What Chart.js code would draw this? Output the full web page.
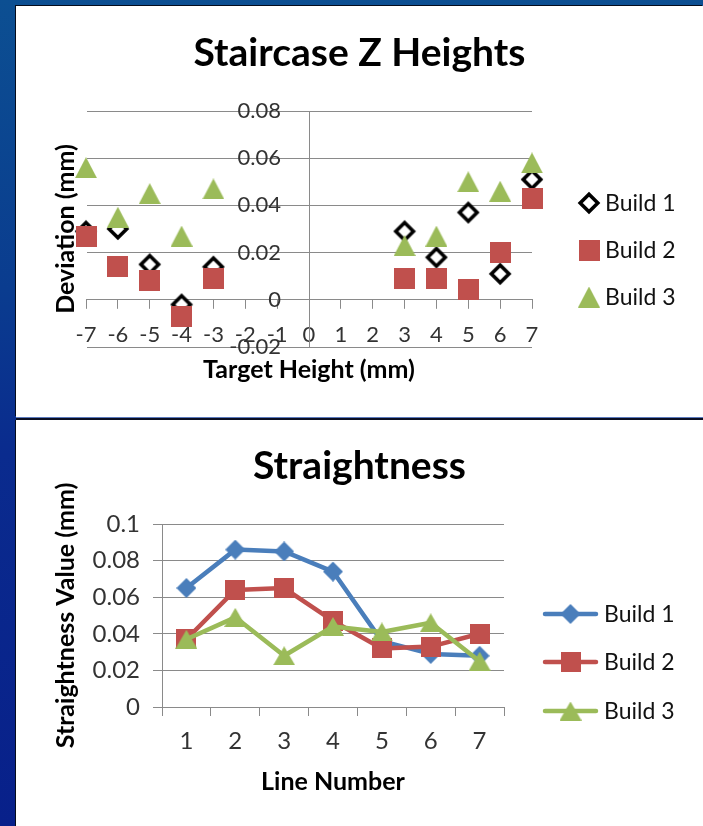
<!DOCTYPE html>
<html>
<head>
<meta charset="utf-8">
<script src="https://cdn.jsdelivr.net/npm/chart.js@4.4.1/dist/chart.umd.min.js"></script>
<style>
  html, body { margin: 0; padding: 0; }
  body {
    width: 703px; height: 826px; position: relative; overflow: hidden;
    background: linear-gradient(180deg, #0c4f92 0%, #0a3c8f 35%, #0a2b8e 55%, #08208a 100%);
  }
  .panel { position: absolute; left: 16px; width: 687px; background: #fff; }
  #p1 { top: 6px; height: 411px; box-shadow: -1px -1px 0 #050c1c; }
  #p2 { top: 420px; height: 406px; box-shadow: -1px 0 0 #050c1c; }
  #rule1 { position: absolute; left: 16px; top: 417px; width: 687px; height: 1px; background: #5a79bd; }
  #rule2 { position: absolute; left: 16px; top: 418px; width: 687px; height: 2px; background: #0a0f22; }
  canvas { display: block; }
</style>
</head>
<body>
<div class="panel" id="p1"><canvas id="stairs" width="687" height="411"></canvas></div>
<div id="rule1"></div><div id="rule2"></div>
<div class="panel" id="p2"><canvas id="straight" width="687" height="406"></canvas></div>
<script>
// ---- Staircase Z Heights: deviation per target height ----
const stairTargets = [-7, -6, -5, -4, -3, 3, 4, 5, 6, 7];
const stairBuild1 = [0.029, 0.030, 0.015, -0.002, 0.014, 0.029, 0.018, 0.037, 0.011, 0.051];
const stairBuild2 = [0.027, 0.014, 0.008, -0.007, 0.009, 0.009, 0.009, 0.0045, 0.020, 0.043];
const stairBuild3 = [0.056, 0.035, 0.045, 0.027, 0.047, 0.023, 0.027, 0.050, 0.046, 0.058];
const stairXTicks = [-7, -6, -5, -4, -3, -2, -1, 0, 1, 2, 3, 4, 5, 6, 7];
const stairXTickLabels = ['-7', '-6', '-5', '-4', '-3', '-2', '-1', '0', '1', '2', '3', '4', '5', '6', '7'];
const stairYTicks = [-0.02, 0, 0.02, 0.04, 0.06, 0.08];
const stairYTickLabels = ['-0.02', '0', '0.02', '0.04', '0.06', '0.08'];

// ---- Straightness: value per line number ----
const lineNumbers = ['1', '2', '3', '4', '5', '6', '7'];
const straightBuild1 = [0.065, 0.086, 0.085, 0.074, 0.036, 0.029, 0.028];
const straightBuild2 = [0.037, 0.064, 0.065, 0.047, 0.032, 0.033, 0.040];
const straightBuild3 = [0.037, 0.049, 0.028, 0.044, 0.041, 0.046, 0.025];
const straightYTicks = [0, 0.02, 0.04, 0.06, 0.08, 0.1];
const straightYTickLabels = ['0', '0.02', '0.04', '0.06', '0.08', '0.1'];

const seriesNames = ['Build 1', 'Build 2', 'Build 3'];

const FONT = 'Lato, "Open Sans", sans-serif';
const GRID = '#8a8a8a';
const TICK_TEXT = '#333333';
const BLUE = '#4a7ebb', RED = '#c0504d', GREEN = '#9bbb59';

// marker sprites (bounding box centred on the data point)
function sprite(w, h, paint) {
  const c = document.createElement('canvas');
  c.width = w; c.height = h;
  paint(c.getContext('2d'), w, h);
  return c;
}
function diamondPath(g, cx, cy, r) {
  g.beginPath();
  g.moveTo(cx, cy - r); g.lineTo(cx + r, cy); g.lineTo(cx, cy + r); g.lineTo(cx - r, cy);
  g.closePath();
}
const openDiamond = sprite(24, 24, (g) => {
  diamondPath(g, 12, 12, 8.8);
  g.fillStyle = '#fff'; g.fill();
  g.lineWidth = 3.6; g.strokeStyle = '#000'; g.lineJoin = 'miter'; g.stroke();
});
const redSquareL = sprite(21, 21, (g, w, h) => { g.fillStyle = RED; g.fillRect(0, 0, w, h); });
const greenTriL = sprite(22, 21, (g, w, h) => {
  g.beginPath(); g.moveTo(w / 2, 0); g.lineTo(w, h); g.lineTo(0, h); g.closePath();
  g.fillStyle = GREEN; g.fill();
});
const blueDiamond = sprite(20, 20, (g) => { diamondPath(g, 10, 10, 10); g.fillStyle = BLUE; g.fill(); });
const redSquareS = sprite(20, 20, (g, w, h) => { g.fillStyle = RED; g.fillRect(0, 0, w, h); });
const greenTriS = sprite(22, 19, (g, w, h) => {
  g.beginPath(); g.moveTo(w / 2, 0); g.lineTo(w, h); g.lineTo(0, h); g.closePath();
  g.fillStyle = GREEN; g.fill();
});

// moves the axes of the deviation chart so they cross at (0, 0);
// the boxes keep some extent so their tick labels are not clipped away
const crossAtOrigin = {
  id: 'crossAtOrigin',
  afterLayout(chart) {
    const xs = chart.scales.x, ys = chart.scales.y;
    const px = xs.getPixelForValue(0);
    ys.right = px; ys.left = px - 200;
    const py = ys.getPixelForValue(0);
    xs.top = py; xs.bottom = py + 80;
  }
};

// titles, axis titles and legend
function decorations(cfg) {
  return {
    id: 'decorations',
    afterDraw(chart) {
      const ctx = chart.ctx, area = chart.chartArea;
      ctx.save();
      ctx.fillStyle = '#000';
      ctx.textAlign = 'center';
      ctx.textBaseline = 'alphabetic';
      ctx.font = 'bold 39px ' + FONT;
      ctx.fillText(cfg.title, chart.width / 2, cfg.titleBaseline);

      ctx.font = 'bold 25px ' + FONT;
      ctx.fillText(cfg.xTitle, (area.left + area.right) / 2, cfg.xTitleBaseline);

      ctx.save();
      ctx.translate(cfg.yTitleBaseline, (area.top + area.bottom) / 2);
      ctx.rotate(-Math.PI / 2);
      ctx.fillText(cfg.yTitle, 0, 0);
      ctx.restore();

      ctx.font = '23px ' + FONT;
      ctx.textAlign = 'left';
      ctx.textBaseline = 'middle';
      chart.data.datasets.forEach((ds, i) => {
        const y = cfg.legendRows[i];
        if (cfg.legendLine) {
          ctx.strokeStyle = ds.borderColor;
          ctx.lineWidth = ds.borderWidth;
          ctx.lineCap = 'round';
          ctx.beginPath();
          ctx.moveTo(cfg.legendLine[0], y); ctx.lineTo(cfg.legendLine[1], y);
          ctx.stroke();
        }
        const img = ds.pointStyle;
        ctx.drawImage(img, cfg.legendMarkerX - img.width / 2, y - img.height / 2);
        ctx.fillStyle = '#111';
        ctx.fillText(ds.label, cfg.legendTextX, y + 1);
      });
      ctx.restore();
    }
  };
}

const stairTickFont = { family: FONT, size: 22 };
const straightTickFont = { family: FONT, size: 24 };

new Chart(document.getElementById('stairs'), {
  type: 'scatter',
  data: {
    datasets: [
      { label: seriesNames[0], data: stairTargets.map((x, i) => ({ x, y: stairBuild1[i] })),
        pointStyle: openDiamond, pointRadius: 11, order: 3, clip: false },
      { label: seriesNames[1], data: stairTargets.map((x, i) => ({ x, y: stairBuild2[i] })),
        pointStyle: redSquareL, pointRadius: 11, order: 2, clip: false },
      { label: seriesNames[2], data: stairTargets.map((x, i) => ({ x, y: stairBuild3[i] })),
        pointStyle: greenTriL, pointRadius: 11, order: 1, clip: false }
    ]
  },
  options: {
    responsive: false, animation: false, events: [],
    layout: { padding: { left: 70, right: 171, top: 105, bottom: 70 } },
    plugins: { legend: { display: false }, tooltip: { enabled: false } },
    scales: {
      x: {
        type: 'linear', position: 'bottom', min: -7, max: 7,
        afterFit: (s) => { s.height = 0; },
        afterBuildTicks: (s) => { s.ticks = stairXTicks.map((v) => ({ value: v })); },
        ticks: { autoSkip: false, maxRotation: 0, padding: 13, color: TICK_TEXT, font: stairTickFont,
                 callback: (v, i) => stairXTickLabels[i] },
        grid: { drawOnChartArea: false, drawTicks: true, tickLength: 9, color: GRID, tickColor: GRID },
        border: { display: true, color: GRID, width: 1 }
      },
      y: {
        type: 'linear', position: 'left', min: -0.02, max: 0.08,
        afterFit: (s) => { s.width = 0; },
        afterBuildTicks: (s) => { s.ticks = stairYTicks.map((v) => ({ value: v })); },
        ticks: { padding: 28, color: TICK_TEXT, font: stairTickFont,
                 callback: (v, i) => stairYTickLabels[i] },
        grid: { color: GRID, drawTicks: false },
        border: { display: true, color: GRID, width: 1 }
      }
    }
  },
  plugins: [crossAtOrigin, decorations({
    title: 'Staircase Z Heights', titleBaseline: 60,
    xTitle: 'Target Height (mm)', xTitleBaseline: 372,
    yTitle: 'Deviation (mm)', yTitleBaseline: 58,
    legendRows: [197, 244, 291], legendMarkerX: 573, legendTextX: 589
  })]
});

new Chart(document.getElementById('straight'), {
  type: 'line',
  data: {
    labels: lineNumbers,
    datasets: [
      { label: seriesNames[0], data: straightBuild1, borderColor: BLUE, borderWidth: 4.5,
        pointStyle: blueDiamond, pointRadius: 10, order: 3, clip: false },
      { label: seriesNames[1], data: straightBuild2, borderColor: RED, borderWidth: 4.5,
        pointStyle: redSquareS, pointRadius: 10, order: 2, clip: false },
      { label: seriesNames[2], data: straightBuild3, borderColor: GREEN, borderWidth: 4.5,
        pointStyle: greenTriS, pointRadius: 10, order: 1, clip: false }
    ]
  },
  options: {
    responsive: false, animation: false, events: [],
    layout: { padding: { left: 0, right: 199, top: 104, bottom: 0 } },
    plugins: { legend: { display: false }, tooltip: { enabled: false } },
    elements: { line: { tension: 0, borderJoinStyle: 'round' } },
    scales: {
      x: {
        type: 'category', position: 'bottom', offset: true,
        afterFit: (s) => { s.height = 119; },
        ticks: { autoSkip: false, maxRotation: 0, padding: 11, color: TICK_TEXT, font: straightTickFont },
        grid: { offset: true, drawOnChartArea: false, drawTicks: true, tickLength: 9, color: GRID, tickColor: GRID },
        border: { display: true, color: GRID, width: 1 }
      },
      y: {
        type: 'linear', position: 'left', min: 0, max: 0.1,
        afterFit: (s) => { s.width = 146; },
        afterBuildTicks: (s) => { s.ticks = straightYTicks.map((v) => ({ value: v })); },
        ticks: { padding: 13, color: TICK_TEXT, font: straightTickFont,
                 callback: (v, i) => straightYTickLabels[i] },
        grid: { color: GRID, drawTicks: true, tickLength: 9, tickColor: GRID },
        border: { display: true, color: GRID, width: 1 }
      }
    }
  },
  plugins: [decorations({
    title: 'Straightness', titleBaseline: 59,
    xTitle: 'Line Number', xTitleBaseline: 370,
    yTitle: 'Straightness Value (mm)', yTitleBaseline: 58,
    legendRows: [194, 242, 291], legendLine: [529, 580], legendMarkerX: 554.5, legendTextX: 588
  })]
});
</script>
</body>
</html>
